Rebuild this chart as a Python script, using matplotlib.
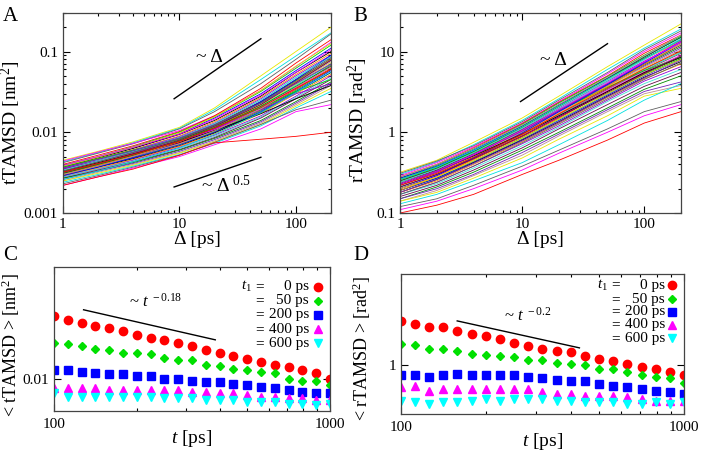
#!/usr/bin/env python3
import numpy as np
import matplotlib
matplotlib.use('Agg')
import matplotlib.pyplot as plt
from matplotlib.ticker import FuncFormatter, NullLocator, NullFormatter, LogLocator

plt.rcParams['font.family'] = ['Liberation Serif', 'DejaVu Serif']
plt.rcParams['mathtext.fontset'] = 'custom'
plt.rcParams['mathtext.rm'] = 'Liberation Serif'
plt.rcParams['mathtext.it'] = 'Liberation Serif:italic'
plt.rcParams['mathtext.bf'] = 'Liberation Serif:bold'

###########################################################
# data: single trajectories (values read at a few lag times)
###########################################################
lag = [1, 2, 4, 10, 20, 50, 100, 200]

# tTAMSD in 1e-3 nm^2
ttamsd = [
  [4.5, 5.8, 7.6, 11.5, 20, 50, 100, 200],
  [4.3, 5.6, 7.4, 11.2, 19, 45, 88, 170],
  [4.2, 5.5, 7.2, 11.0, 18, 40, 80, 165],
  [4.4, 5.7, 7.3, 10.5, 16, 33, 65, 130],
  [4.0, 5.2, 6.8, 10.2, 16, 35, 72, 140],
  [3.9, 5.0, 6.6, 10.0, 15.5, 32, 62, 120],
  [3.8, 4.9, 6.4, 9.6, 15, 30, 58, 110],
  [3.7, 4.8, 6.3, 9.4, 14, 28, 55, 100],
  [3.6, 4.7, 6.1, 9.0, 13.5, 27, 52, 95],
  [3.6, 4.6, 6.0, 8.8, 13, 26, 50, 90],
  [3.5, 4.5, 5.9, 8.6, 12.8, 25, 48, 88],
  [3.5, 4.4, 5.8, 8.5, 12.5, 24, 45, 85],
  [3.4, 4.3, 5.7, 8.3, 12.3, 23.5, 44, 80],
  [3.4, 4.3, 5.6, 8.2, 12, 23, 42, 78],
  [3.3, 4.2, 5.5, 8.0, 11.8, 22, 40, 75],
  [3.3, 4.2, 5.4, 7.9, 11.5, 21.5, 39, 72],
  [3.2, 4.1, 5.3, 7.7, 11.2, 21, 38, 70],
  [3.2, 4.0, 5.2, 7.6, 11, 20, 36, 68],
  [3.1, 3.9, 5.1, 7.4, 10.8, 19.5, 35, 65],
  [3.1, 3.9, 5.0, 7.3, 10.5, 19, 34, 62],
  [3.0, 3.8, 4.9, 7.1, 10.2, 18.5, 33, 60],
  [3.0, 3.8, 4.8, 7.0, 10, 18, 32, 58],
  [2.9, 3.7, 4.7, 6.8, 9.8, 17.5, 31, 55],
  [2.9, 3.6, 4.6, 6.7, 9.5, 17, 30, 52],
  [2.8, 3.5, 4.5, 6.5, 9.2, 16, 28, 50],
  [2.8, 3.5, 4.4, 6.3, 8.9, 15.5, 27, 47],
  [2.7, 3.4, 4.3, 6.1, 8.6, 15, 26, 45],
  [2.7, 3.3, 4.2, 6.0, 8.4, 14, 24, 42],
  [2.6, 3.3, 4.1, 5.8, 8.1, 13.5, 23, 40],
  [2.5, 3.2, 4.0, 5.6, 7.8, 13, 22, 38],
  [2.5, 3.1, 3.9, 5.5, 7.6, 12.5, 21, 35],
  [2.4, 3.0, 3.8, 5.3, 7.3, 12, 20, 32],
  [2.3, 2.9, 3.7, 5.2, 7.5, 12.5, 19, 25],
  [2.2, 2.8, 3.6, 5.0, 7.0, 11, 18, 22],
  [2.2, 2.8, 3.5, 5.2, 7.4, 8.2, 8.9, 10.0],
  [3.7, 4.7, 6.0, 8.2, 11.5, 20, 32, 45],
  [2.9, 3.7, 4.9, 7.5, 11.5, 24, 45, 90],
  [3.3, 4.2, 5.4, 7.5, 10.5, 17, 26, 38],
  [3.0, 3.9, 5.1, 7.6, 11.5, 22, 42, 80],
  [3.5, 4.4, 5.6, 7.8, 11, 19, 30, 40],
  [3.4, 4.4, 5.8, 8.6, 12.7, 25, 47, 86],
  [3.2, 4.1, 5.4, 8.0, 11.9, 22, 41, 78],
  [3.1, 4.0, 5.2, 7.8, 11.4, 21, 37, 66],
  [3.6, 4.6, 5.9, 8.5, 12.4, 23, 40, 70],
  [3.0, 3.8, 5.0, 7.2, 10.4, 19.5, 36, 64],
  [3.8, 4.9, 6.5, 9.8, 15.5, 33, 66, 125],
  [2.6, 3.3, 4.3, 6.4, 9.4, 17.5, 31, 56],
  [3.3, 4.3, 5.6, 8.3, 12.2, 23, 43, 82],
  [3.9, 5.0, 6.5, 9.5, 14.5, 29, 55, 105],
  [3.2, 4.1, 5.3, 7.7, 11.2, 20.5, 35, 60],
]

# rTAMSD in rad^2
rtamsd = [
  [0.32, 0.45, 0.75, 1.5, 2.8, 6.5, 12, 22],
  [0.30, 0.43, 0.70, 1.4, 2.6, 6.0, 11, 19],
  [0.31, 0.44, 0.68, 1.35, 2.5, 5.5, 10.5, 18],
  [0.29, 0.42, 0.66, 1.3, 2.4, 5.3, 10, 17],
  [0.28, 0.40, 0.64, 1.28, 2.35, 5.0, 9.5, 16],
  [0.27, 0.39, 0.62, 1.25, 2.3, 4.9, 9.0, 15.5],
  [0.27, 0.38, 0.60, 1.2, 2.2, 4.7, 8.6, 15],
  [0.26, 0.37, 0.58, 1.18, 2.15, 4.6, 8.2, 14],
  [0.25, 0.36, 0.57, 1.15, 2.1, 4.5, 8.0, 13.5],
  [0.25, 0.35, 0.56, 1.12, 2.0, 4.3, 7.6, 13],
  [0.24, 0.34, 0.55, 1.1, 1.95, 4.2, 7.3, 12.5],
  [0.24, 0.34, 0.54, 1.08, 1.9, 4.0, 7.0, 12],
  [0.23, 0.33, 0.53, 1.05, 1.85, 3.9, 6.8, 11.5],
  [0.23, 0.32, 0.52, 1.02, 1.8, 3.8, 6.6, 11],
  [0.22, 0.32, 0.51, 1.0, 1.75, 3.7, 6.4, 10.5],
  [0.22, 0.31, 0.50, 0.98, 1.7, 3.6, 6.2, 10],
  [0.21, 0.30, 0.49, 0.95, 1.65, 3.5, 6.0, 9.8],
  [0.21, 0.30, 0.48, 0.93, 1.6, 3.4, 5.8, 9.5],
  [0.20, 0.29, 0.47, 0.9, 1.55, 3.3, 5.6, 9.0],
  [0.20, 0.28, 0.46, 0.88, 1.5, 3.2, 5.4, 8.5],
  [0.19, 0.27, 0.44, 0.85, 1.45, 3.0, 5.2, 8.2],
  [0.19, 0.27, 0.43, 0.82, 1.4, 2.9, 5.0, 8.0],
  [0.18, 0.26, 0.42, 0.8, 1.35, 2.8, 4.8, 7.5],
  [0.18, 0.25, 0.40, 0.76, 1.3, 2.7, 4.6, 7.0],
  [0.17, 0.24, 0.38, 0.72, 1.2, 2.5, 4.3, 6.5],
  [0.17, 0.23, 0.36, 0.68, 1.15, 2.4, 4.0, 6.0],
  [0.16, 0.22, 0.34, 0.64, 1.1, 2.2, 3.7, 5.5],
  [0.15, 0.21, 0.32, 0.6, 1.0, 2.0, 3.4, 5.0],
  [0.15, 0.20, 0.30, 0.56, 0.95, 1.9, 3.2, 4.2],
  [0.14, 0.19, 0.29, 0.52, 0.9, 1.8, 3.0, 3.8],
  [0.14, 0.18, 0.27, 0.48, 0.82, 1.6, 2.8, 3.5],
  [0.13, 0.17, 0.25, 0.42, 0.7, 1.4, 2.5, 4.0],
  [0.12, 0.15, 0.22, 0.38, 0.6, 1.1, 1.8, 2.4],
  [0.11, 0.14, 0.20, 0.34, 0.55, 1.0, 1.6, 2.2],
  [0.10, 0.125, 0.17, 0.30, 0.45, 0.8, 1.3, 1.8],
  [0.26, 0.37, 0.56, 1.05, 1.85, 3.6, 5.8, 8.5],
  [0.20, 0.29, 0.48, 0.98, 1.8, 3.9, 7.2, 13],
  [0.23, 0.33, 0.51, 0.95, 1.6, 3.2, 5.5, 8.5],
  [0.19, 0.28, 0.46, 0.92, 1.7, 3.7, 6.9, 12.5],
  [0.22, 0.32, 0.52, 1.04, 1.85, 4.0, 7.4, 13.5],
  [0.24, 0.35, 0.56, 1.12, 2.05, 4.4, 7.9, 14.5],
  [0.21, 0.30, 0.47, 0.9, 1.55, 3.1, 5.3, 8.8],
  [0.25, 0.36, 0.58, 1.16, 2.1, 4.6, 8.5, 15],
  [0.18, 0.26, 0.41, 0.78, 1.32, 2.75, 4.7, 7.8],
  [0.28, 0.40, 0.63, 1.22, 2.2, 4.8, 8.8, 16],
  [0.20, 0.28, 0.44, 0.84, 1.45, 3.0, 5.1, 8.0],
  [0.26, 0.37, 0.59, 1.17, 2.12, 4.55, 8.1, 14],
  [0.17, 0.24, 0.38, 0.74, 1.26, 2.6, 4.5, 7.2],
  [0.23, 0.33, 0.53, 1.06, 1.9, 4.1, 7.5, 13],
  [0.22, 0.31, 0.49, 0.95, 1.68, 3.5, 6.1, 10.2],
]

###########################################################
# data: ensemble averages vs measurement time
###########################################################
t_meas = [100, 112, 126, 141, 158, 178, 200, 224, 251, 282, 316,
          355, 398, 447, 501, 562, 631, 708, 794, 891, 1000]
t1_labels = ['0', '50', '200', '400', '600']

# < tTAMSD > [nm^2]
c_t0   = [0.0151, 0.0147, 0.0145, 0.0142, 0.0140, 0.0137, 0.0134, 0.0131, 0.0129,
          0.0127, 0.0124, 0.0121, 0.0119, 0.0116, 0.0114, 0.0112, 0.0110, 0.0108,
          0.0106, 0.0104, 0.0100]
c_t50  = [0.0127, 0.0126, 0.0124, 0.0122, 0.0121, 0.0119, 0.0119, 0.0118, 0.0115,
          0.0113, 0.0113, 0.0110, 0.0109, 0.0107, 0.0106, 0.0105, 0.0104, 0.0100,
          0.0099, 0.0099, 0.0096]
c_t200 = [0.0106, 0.0106, 0.0105, 0.0104, 0.0103, 0.0103, 0.0102, 0.0102, 0.0100,
          0.0100, 0.0099, 0.0098, 0.0098, 0.0097, 0.0096, 0.0095, 0.0094, 0.0093,
          0.0092, 0.0091, 0.0091]
c_t400 = [0.0094, 0.0094, 0.0094, 0.0094, 0.0093, 0.0093, 0.0093, 0.0093, 0.0093,
          0.0093, 0.0092, 0.0092, 0.0091, 0.0091, 0.0090, 0.0089, 0.0089, 0.0088,
          0.0088, 0.0087, 0.0087]
c_t600 = [0.0091, 0.0089, 0.0089, 0.0089, 0.0089, 0.0089, 0.0089, 0.0089, 0.0088,
          0.0088, 0.0088, 0.0087, 0.0087, 0.0087, 0.0086, 0.0086, 0.0086, 0.0085,
          0.0085, 0.0084, 0.0085]

# < rTAMSD > [rad^2]
d_t0   = [1.39, 1.36, 1.33, 1.33, 1.29, 1.26, 1.24, 1.21, 1.18, 1.15, 1.13,
          1.11, 1.10, 1.07, 1.05, 1.03, 1.01, 0.99, 0.97, 0.95, 0.93]
d_t50  = [1.17, 1.16, 1.13, 1.13, 1.11, 1.09, 1.08, 1.07, 1.06, 1.04, 1.04,
          1.02, 1.01, 1.00, 0.97, 0.97, 0.95, 0.93, 0.92, 0.91, 0.88]
d_t200 = [0.93, 0.93, 0.92, 0.93, 0.94, 0.93, 0.93, 0.93, 0.93, 0.92, 0.91,
          0.90, 0.89, 0.89, 0.87, 0.86, 0.85, 0.84, 0.83, 0.82, 0.81]
d_t400 = [0.85, 0.86, 0.83, 0.84, 0.84, 0.84, 0.84, 0.84, 0.84, 0.84, 0.82,
          0.81, 0.81, 0.80, 0.80, 0.80, 0.79, 0.78, 0.77, 0.77, 0.77]
d_t600 = [0.77, 0.76, 0.75, 0.76, 0.76, 0.77, 0.78, 0.77, 0.78, 0.78, 0.78,
          0.77, 0.77, 0.76, 0.76, 0.76, 0.75, 0.75, 0.76, 0.75, 0.76]

###########################################################
# styles
###########################################################
palette = ['#e8e800', '#00e0e0', '#606060', '#ff00ff', '#ff0000', '#00d000',
           '#0000ff', '#000000', '#ff8c00', '#9400d3', '#40e0d0', '#670748',
           '#008b00', '#7221bc', '#bc8f8f']
sym_styles = [('o', '#ff0000', 6.0), ('D', '#00e000', 4.5), ('s', '#0000ff', 6.0),
              ('^', '#ff00ff', 5.5), ('v', '#00ffff', 5.5)]
fmt = FuncFormatter(lambda v, _: f'{v:g}')


def style_axes(ax):
  ax.tick_params(which='both', direction='in', top=True, right=True,
                 labelsize=11, width=0.8)
  ax.tick_params(which='major', length=5)
  ax.tick_params(which='minor', length=2.5)
  for s in ax.spines.values():
    s.set_linewidth(0.9)
    s.set_color('#444444')
  ax.xaxis.set_major_formatter(fmt)
  ax.yaxis.set_major_formatter(fmt)
  ax.xaxis.set_minor_formatter(NullFormatter())
  ax.yaxis.set_minor_formatter(NullFormatter())


def traj_panel(ax, rows, scale, ylim, ylabel, ylab_xy):
  for i, row in enumerate(rows):
    ax.plot(lag, np.array(row) * scale, color=palette[i % len(palette)], lw=0.6)
  ax.set_xscale('log')
  ax.set_yscale('log')
  ax.set_xlim(1, 200)
  ax.set_ylim(*ylim)
  ax.set_xlabel('Δ [ps]', fontsize=14, labelpad=0)
  ax.set_ylabel(ylabel, fontsize=14)
  ax.yaxis.set_label_coords(*ylab_xy)
  style_axes(ax)


def avg_panel(ax, series, ylim, ylabel, ylab_xy, legend_y, x_eq, x_end, x_mark):
  for y, (m, c, ms), lab in zip(series, sym_styles, t1_labels):
    ax.plot(t_meas, y, ls='none', marker=m, color=c, ms=ms, mec=c)
  ax.set_xscale('log')
  ax.set_yscale('log')
  ax.set_xlim(100, 1000)
  ax.set_ylim(*ylim)
  ax.set_xticks([100, 1000])
  ax.xaxis.set_minor_locator(LogLocator(base=10, subs=np.arange(2, 10)))
  ax.yaxis.set_minor_locator(NullLocator())
  ax.set_xlabel('$t$ [ps]', fontsize=14, labelpad=-2)
  ax.set_ylabel(ylabel, fontsize=13)
  ax.yaxis.set_label_coords(*ylab_xy)
  style_axes(ax)
  ax.tick_params(axis='x', pad=5)
  # legend drawn by hand: right aligned texts, symbols on the right
  for k, ((m, c, ms), lab) in enumerate(zip(sym_styles, t1_labels)):
    yy = legend_y[k]
    if k == 0:
      ax.text(x_eq - 0.012, yy, '$t_1$', transform=ax.transAxes, ha='right',
              va='center', fontsize=11)
    ax.text(x_eq, yy, '=', transform=ax.transAxes, ha='left', va='center', fontsize=11)
    ax.text(x_end, yy, f'{lab} ps', transform=ax.transAxes, ha='right',
            va='center', fontsize=11)
    ax.plot([x_mark], [yy], transform=ax.transAxes, marker=m, color=c, ms=ms,
            mec=c, ls='none', clip_on=False)


fig = plt.figure(figsize=(7.02, 4.51), dpi=100)
axA = fig.add_axes([0.0897, 0.5277, 0.3818, 0.4435])
axB = fig.add_axes([0.5698, 0.5277, 0.4003, 0.4435])
axC = fig.add_axes([0.0769, 0.0887, 0.3932, 0.3193])
axD = fig.add_axes([0.5712, 0.0820, 0.4032, 0.3104])

traj_panel(axA, ttamsd, 1e-3, (0.001, 0.3), 'tTAMSD [nm$^2$]', (-0.148, 0.45))
axA.plot([9, 50], [0.026, 0.144], color='black', lw=1.0)
axA.plot([9, 50], [0.0021, 0.0049], color='black', lw=1.0)
axA.text(18, 0.085, '~ Δ', fontsize=14, ha='center', va='center')
axA.text(25, 0.0022, '~ Δ$^{\\ 0.5}$', fontsize=14, ha='center', va='center')

traj_panel(axB, rtamsd, 1.0, (0.1, 30), 'rTAMSD [rad$^2$]', (-0.108, 0.465))
axB.plot([9.7, 50], [2.4, 12.5], color='black', lw=1.0)
axB.text(18, 7.7, '~ Δ', fontsize=14, ha='center', va='center')

avg_panel(axC, [c_t0, c_t50, c_t200, c_t400, c_t600], (0.0081, 0.0209),
          '< tTAMSD > [nm$^2$]', (-0.117, 0.458), [0.863, 0.764, 0.667, 0.567, 0.470],
          0.730, 0.924, 0.955)
axC.plot([128, 384], [0.01577, 0.01294], color='black', lw=1.0)
axC.text(233, 0.0166, '~ $t^{\\ -0.18}$', fontsize=12, ha='center', va='center')

avg_panel(axD, [d_t0, d_t50, d_t200, d_t400, d_t600], (0.698, 1.96),
          '< rTAMSD > [rad$^2$]', (-0.098, 0.468), [0.921, 0.819, 0.731, 0.636, 0.540],
          0.742, 0.933, 0.958)
axD.plot([158, 427], [1.387, 1.137], color='black', lw=1.0)
axD.text(281, 1.436, '~ $t^{\\ -0.2}$', fontsize=12, ha='center', va='center')

for lab, x, y in [('A', 0.004, 0.985), ('B', 0.503, 0.985), ('C', 0.004, 0.455), ('D', 0.503, 0.455)]:
  fig.text(x, y, lab, fontsize=15, ha='left', va='top')

fig.savefig('out.png', dpi=100)
